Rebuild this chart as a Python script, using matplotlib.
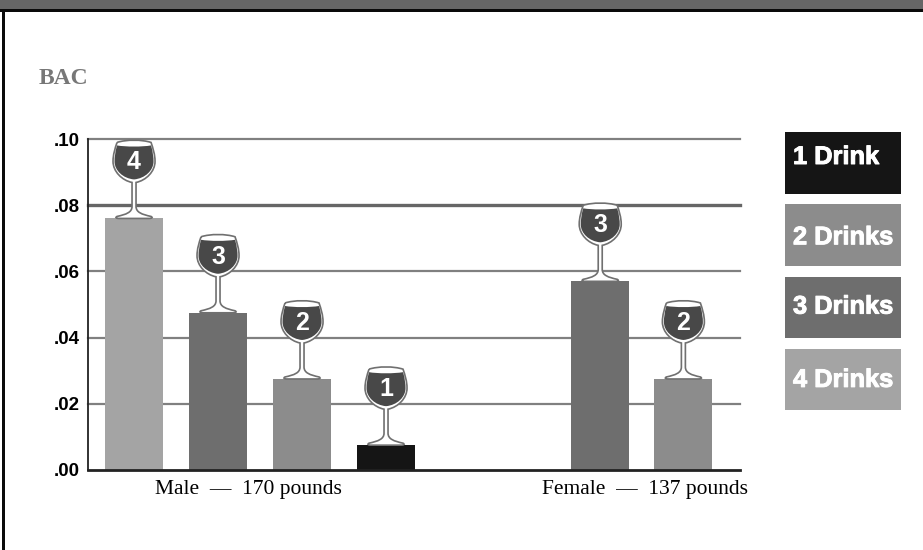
import matplotlib
matplotlib.use("Agg")
import matplotlib.pyplot as plt
import matplotlib.patheffects as pe
from matplotlib.patches import PathPatch, Rectangle
from matplotlib.path import Path
from matplotlib.transforms import Affine2D, ScaledTranslation

# Values
groups = ["Male  \u2014  170 pounds", "Female  \u2014  137 pounds"]
drinks = [4, 3, 2, 1, 3, 2]
bac = [0.076, 0.0475, 0.0275, 0.0075, 0.057, 0.0275]
slots = [0, 1, 2, 3, 5.55, 6.54]
group_centers = [1.357, 6.08]
y_ticks = [0.00, 0.02, 0.04, 0.06, 0.08, 0.10]
y_labels = [".00", ".02", ".04", ".06", ".08", ".10"]
legend_labels = ["1 Drink", "2 Drinks", "3 Drinks", "4 Drinks"]
drink_colors = {1: "#151515", 2: "#8c8c8c", 3: "#6e6e6e", 4: "#a4a4a4"}

W, H = 923, 550
fig = plt.figure(figsize=(W / 100, H / 100), dpi=100, facecolor="white")


def px_axes(x0, y0, x1, y1):
    return fig.add_axes([x0 / W, 1 - y1 / H, (x1 - x0) / W, (y1 - y0) / H])


# Page frame, drawn in pixel coordinates
bg = fig.add_axes([0, 0, 1, 1])
bg.set_xlim(0, W)
bg.set_ylim(H, 0)
bg.axis("off")
bg.add_patch(Rectangle((0, 0), W, 9, fc="#666666", ec="none"))
bg.add_patch(Rectangle((0, 9), W, 2.5, fc="#0a0a0a", ec="none"))
bg.add_patch(Rectangle((2, 9), 2.5, H, fc="#0a0a0a", ec="none"))
bg.text(39, 78, "BAC", family="Liberation Serif", weight="bold", fontsize=17,
        color="#777777", va="center", ha="left")

# Legend boxes, the labels do not sit at the same height in each box
label_offsets = [25, 33, 30, 31]
for i, label in enumerate(legend_labels):
    top = 132 + i * 72.3
    bg.add_patch(Rectangle((784.5, top), 116.5, 61.5,
                           fc=drink_colors[i + 1], ec="none"))
    bg.text(793, top + label_offsets[i], label, family="Liberation Sans", weight="bold",
            fontsize=18.3, color="white", va="center", ha="left",
            path_effects=[pe.withStroke(linewidth=0.7, foreground="white")])

# Main chart
ax = px_axes(88, 139, 740, 470)
ax.set_xlim(-0.548, 7.214)
ax.set_ylim(0, 0.10)
ax.patch.set_alpha(0)

for t in y_ticks[1:]:
    ax.axhline(t, color="#666666" if t == 0.08 else "#808080",
               lw=2.4 if t == 0.08 else 1.6, zorder=1, clip_on=False)

ax.bar(slots, bac, width=0.69, color=[drink_colors[d] for d in drinks], zorder=2)

ax.set_yticks(y_ticks)
ax.set_yticklabels(y_labels, family="Liberation Sans", weight="bold", fontsize=13.5)
ax.set_xticks(group_centers)
ax.set_xticklabels(groups, family="Liberation Serif", fontsize=15.5)
ax.tick_params(axis="both", length=0, pad=6)
ax.tick_params(axis="x", pad=7)
for side in ["top", "right"]:
    ax.spines[side].set_visible(False)
ax.spines["left"].set_linewidth(1.3)
ax.spines["bottom"].set_linewidth(2)
ax.spines["left"].set_color("#222222")
ax.spines["bottom"].set_color("#222222")

C4, L, M = Path.CURVE4, Path.LINETO, Path.MOVETO

# Glass outline in pixels, relative to the middle of the bar top
glass_verts = [
    (-17, 76),
    (-19, 70), (-21, 64), (-21, 57),
    (-21, 47), (-12, 38), (-2, 36),
    (-2, 12),
    (-2, 6), (-8, 4), (-17, 2),
    (-19, 1), (-18, 0), (-15, 0),
    (15, 0),
    (18, 0), (19, 1), (17, 2),
    (8, 4), (2, 6), (2, 12),
    (2, 36),
    (12, 38), (21, 47), (21, 57),
    (21, 64), (19, 70), (17, 76),
    (8, 79), (-8, 79), (-17, 76),
]
glass_codes = [M, C4, C4, C4, C4, C4, C4, L, C4, C4, C4, C4, C4, C4, L,
               C4, C4, C4, C4, C4, C4, L, C4, C4, C4, C4, C4, C4, C4, C4, C4]
wine_verts = [
    (-17, 73),
    (-19, 66), (-19.5, 61), (-19.5, 57),
    (-19.5, 48), (-11, 40), (0, 39),
    (11, 40), (19.5, 48), (19.5, 57),
    (19.5, 61), (19, 66), (17, 73),
    (8, 71.5), (-8, 71.5), (-17, 73),
]
wine_codes = [M] + [C4] * 15

for s, v, d in zip(slots, bac, drinks):
    tr = Affine2D() + ScaledTranslation(s, v, ax.transData)
    ax.add_patch(PathPatch(Path(glass_verts, glass_codes), fc="white", ec="#707070",
                           lw=1.2, transform=tr, zorder=3, clip_on=False))
    ax.add_patch(PathPatch(Path(wine_verts, wine_codes), fc="#484848", ec="none",
                           transform=tr, zorder=4, clip_on=False))
    ax.text(0, 56, str(d), transform=tr, family="Liberation Sans", weight="bold",
            fontsize=18, color="white", ha="center", va="center", zorder=5)

fig.savefig("out.png", dpi=100)
